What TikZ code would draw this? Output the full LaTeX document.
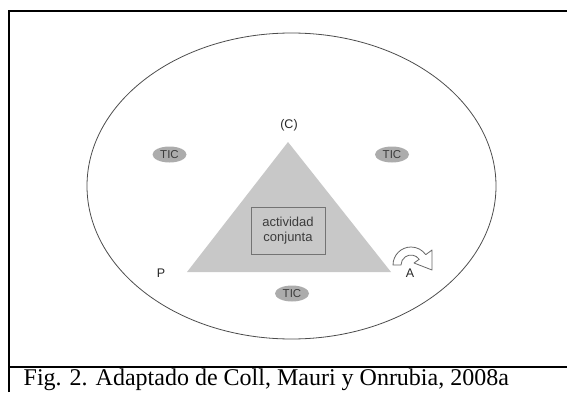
\documentclass[tikz,border=0pt]{standalone}
\usepackage{fontspec}
\setmainfont{Liberation Sans}
\newfontfamily\capfont{Liberation Serif}
\definecolor{trigray}{RGB}{200,200,200}
\definecolor{ticgray}{RGB}{172,172,172}
\definecolor{labgray}{RGB}{60,60,60}
\tikzset{
  tic/.style={ellipse, fill=ticgray, minimum width=34pt, minimum height=16pt,
    inner sep=0pt, text=labgray, font=\fontsize{11.5}{12}\selectfont},
  lab/.style={text=black!85, font=\fontsize{12.5}{13}\selectfont, inner sep=0pt},
}
\usetikzlibrary{shapes.geometric}
\begin{document}
\begin{tikzpicture}[x=1pt, y=1pt]
    \useasboundingbox (0,0) rectangle (567,392);

    \draw[line width=2pt] (9,0) -- (9,381) -- (567,381);
    \draw[line width=1.6pt] (8,25) -- (567,25);

    \draw[black!70, line width=0.8pt] (291.5,206) ellipse [x radius=204.5, y radius=153];

    \fill[trigray] (288,250) -- (187,120) -- (391,120) -- cycle;
    \node[draw=black!55, line width=0.9pt, minimum width=74pt, minimum height=47pt,
        align=center, text=labgray, font=\fontsize{13}{14.5}\selectfont]
        (act) at (288,161.5) {actividad\\conjunta};

    \node[lab] (c) at (289,267) {(C)};
    \node[lab] (p) at (161,119) {P};
    \node[lab] (a) at (410,119) {A};

    \node[tic] (ticl) at (169.5,237.5) {TIC};
    \node[tic] (ticr) at (392,237.5) {TIC};
    \node[tic] (ticb) at (292,98.5) {TIC};

    \draw[black!60, fill=white, line width=0.8pt, line join=round]
        (393,127) arc[start angle=180, end angle=35, radius=18]
        -- (432,142) -- (432,122) -- (414,129) -- (419.2,132.7)
        arc[start angle=35, end angle=180, radius=10] -- cycle;

    \node[anchor=base west, inner sep=0pt, font=\capfont\fontsize{24}{26}\selectfont]
        (cap) at (23.5,7) {Fig. 2. Adaptado de Coll, Mauri y Onrubia, 2008a};
\end{tikzpicture}
\end{document}
